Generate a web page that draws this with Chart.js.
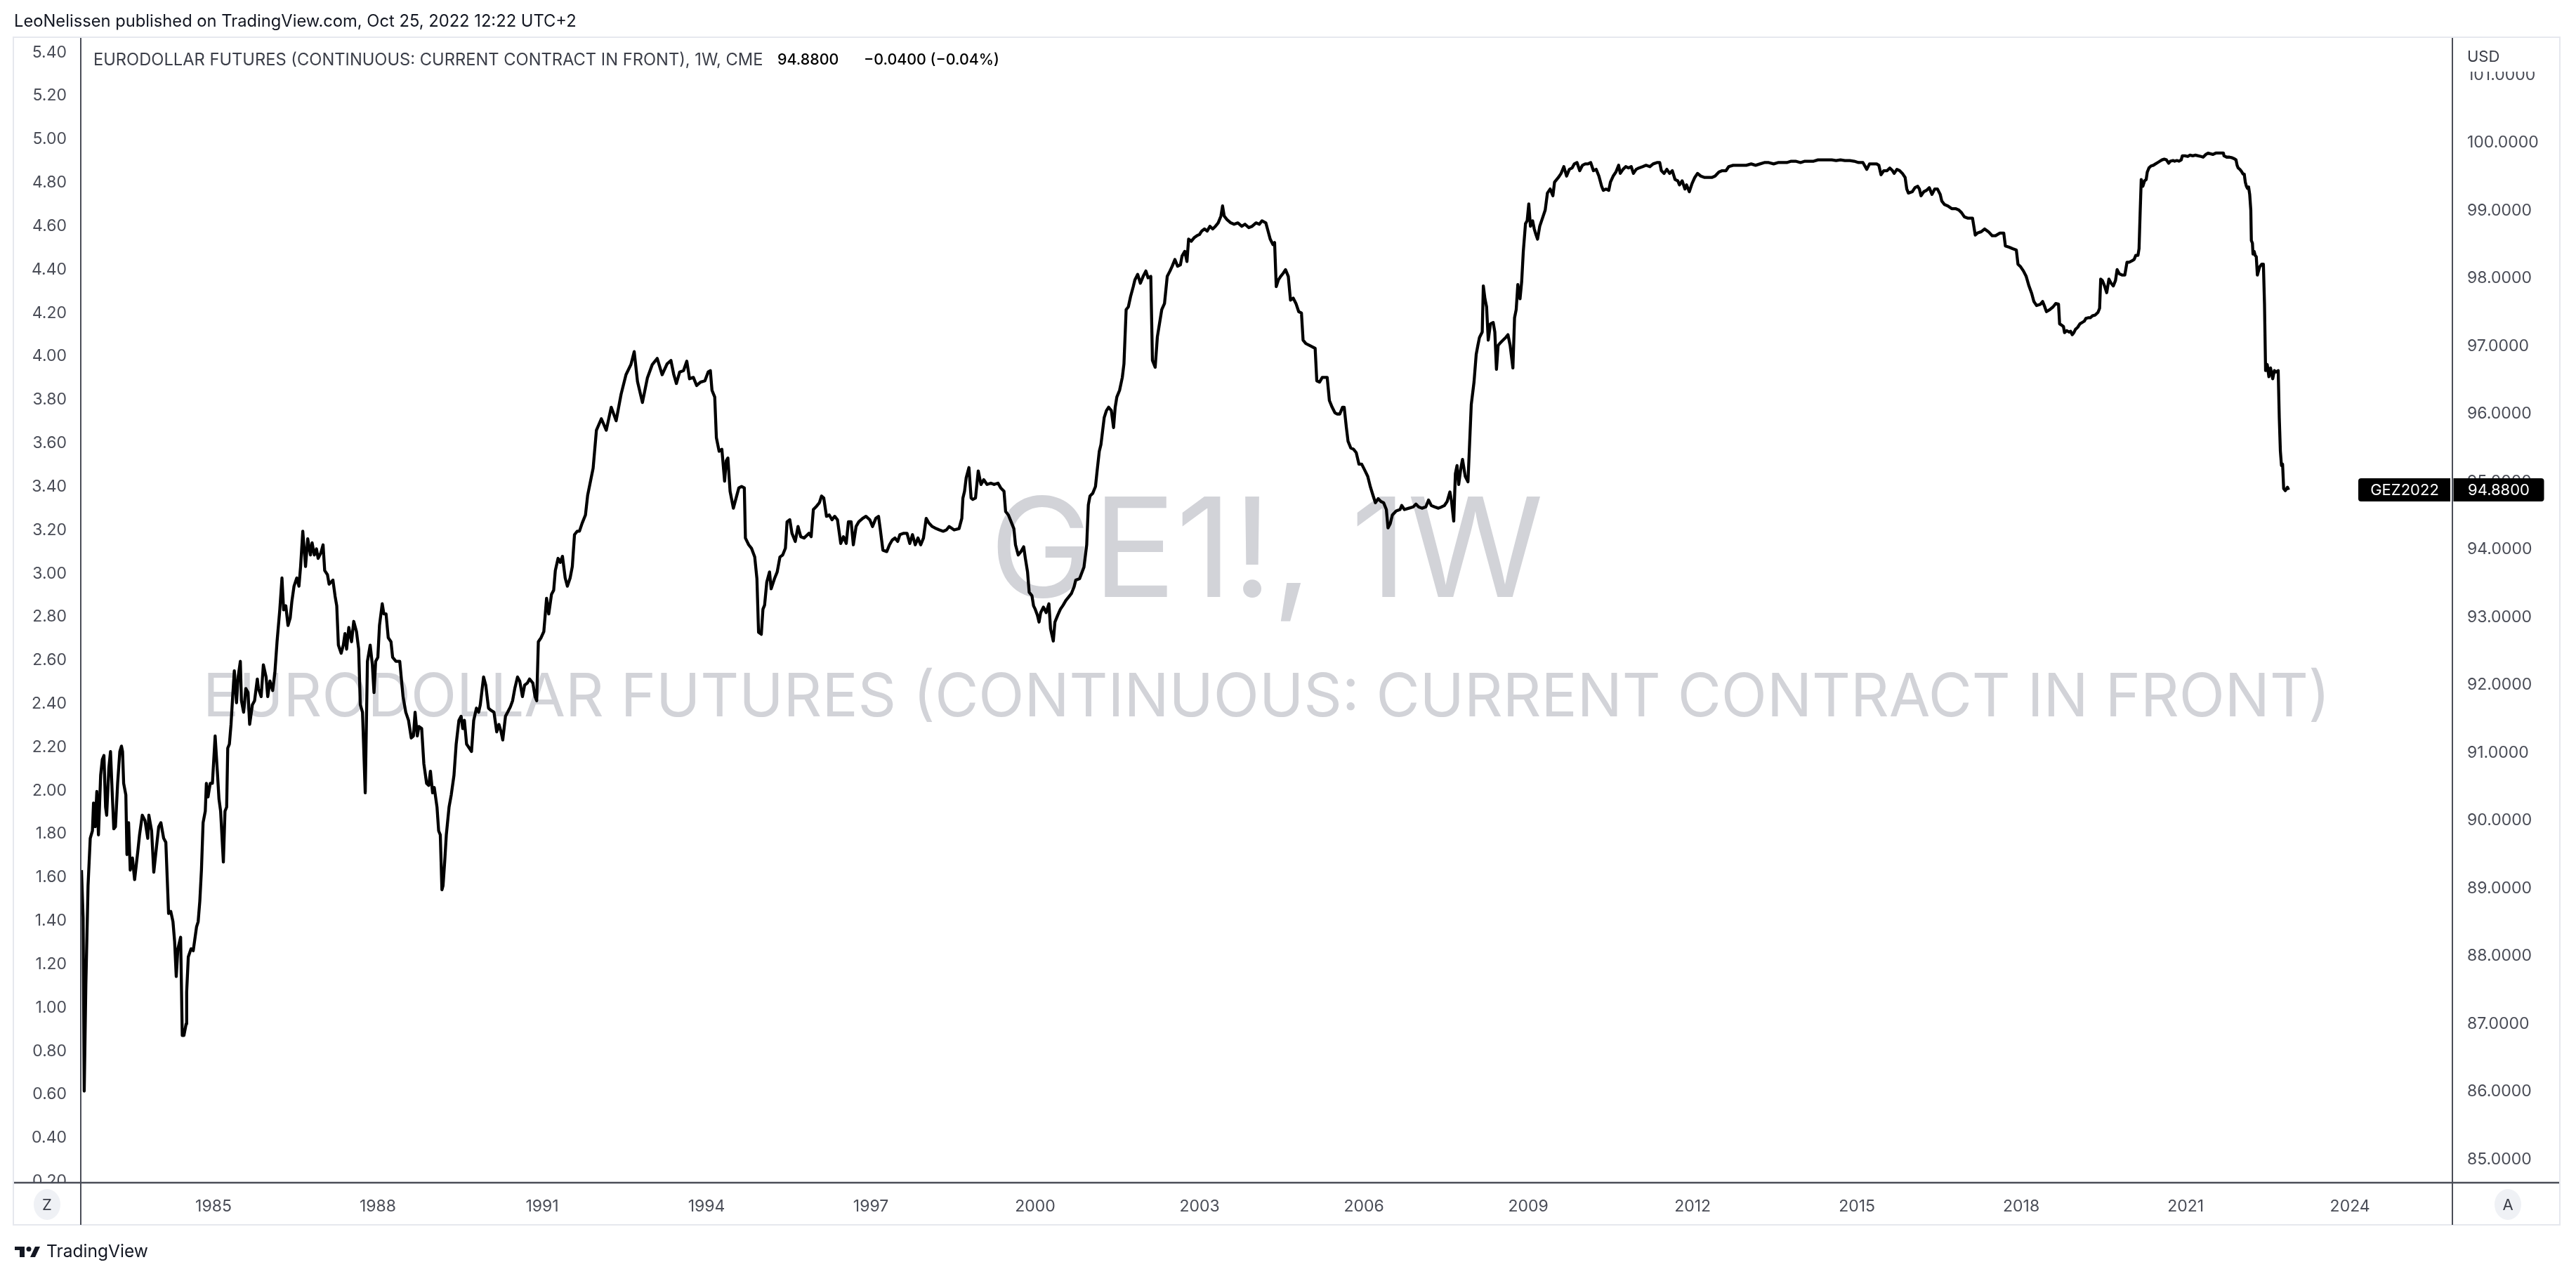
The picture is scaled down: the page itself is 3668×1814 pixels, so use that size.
<!DOCTYPE html>
<html><head><meta charset="utf-8">
<script src="https://cdn.jsdelivr.net/npm/chart.js@4.4.0/dist/chart.umd.min.js"></script>
<style>html,body{margin:0;padding:0;background:#fff;overflow:hidden}canvas{display:block}</style>
</head><body>
<canvas id="c" width="3668" height="1814" style="width:3668px;height:1814px"></canvas>
<script>
// ---- DATA (decimal year, price) ----
const era1982 = [[1982.59,89.27],[1982.62,88.57],[1982.64,86.01],[1982.67,87.58],[1982.71,89.04],[1982.75,89.74],[1982.79,89.85],[1982.81,90.26],[1982.84,89.91],[1982.87,90.43],[1982.90,89.79],[1982.94,90.67],[1982.97,90.90],[1983.00,90.96],[1983.03,90.20],[1983.05,90.08],[1983.09,90.78],[1983.12,91.02],[1983.15,90.43],[1983.18,89.88],[1983.21,89.91],[1983.25,90.55],[1983.29,91.02],[1983.32,91.10],[1983.34,91.02],[1983.36,90.55],[1983.40,90.38],[1983.42,89.50],[1983.45,89.97],[1983.48,89.27],[1983.52,89.45],[1983.56,89.13],[1983.62,89.56],[1983.65,89.79],[1983.70,90.08],[1983.75,90.00],[1983.80,89.74],[1983.82,90.08],[1983.87,89.85],[1983.91,89.24],[1983.96,89.62],[1984.00,89.91],[1984.04,89.97],[1984.09,89.74],[1984.13,89.68],[1984.18,88.63],[1984.22,88.66],[1984.26,88.51],[1984.29,88.22],[1984.32,87.70],[1984.35,88.11],[1984.40,88.28],[1984.43,86.83],[1984.46,86.83],[1984.50,87.00],[1984.51,87.47],[1984.54,87.99],[1984.59,88.11],[1984.63,88.08],[1984.69,88.43],[1984.72,88.51],[1984.75,88.81],[1984.78,89.27],[1984.81,89.97],[1984.85,90.14],[1984.87,90.55],[1984.90,90.35],[1984.94,90.55],[1984.98,90.55],[1985.03,91.25],[1985.07,90.73],[1985.10,90.32],[1985.13,90.14],[1985.18,89.39],[1985.21,90.14],[1985.24,90.20],[1985.26,91.07],[1985.29,91.13],[1985.32,91.42],[1985.35,91.83],[1985.38,92.21],[1985.42,91.74],[1985.45,92.12],[1985.49,92.35],[1985.51,91.77],[1985.55,91.60],[1985.59,91.95],[1985.63,91.89],[1985.66,91.42],[1985.71,91.71],[1985.75,91.77],[1985.80,92.09],[1985.82,91.95],[1985.87,91.83],[1985.91,92.30],[1985.96,92.12],[1985.99,91.83],[1986.03,92.06],[1986.08,91.92],[1986.12,92.18],[1986.16,92.64],[1986.21,93.11],[1986.25,93.58],[1986.28,93.11],[1986.32,93.17],[1986.36,92.88],[1986.40,92.99],[1986.43,93.23],[1986.47,93.46],[1986.52,93.58],[1986.56,93.46],[1986.59,93.75],[1986.63,94.27],[1986.68,93.75],[1986.72,94.16],[1986.77,93.92],[1986.80,94.10],[1986.84,93.92],[1986.88,94.01],[1986.91,93.87],[1986.96,93.95],[1987.00,94.07]];
const era1987 = [[1987.03,93.69],[1987.08,93.63],[1987.11,93.49],[1987.18,93.55],[1987.22,93.31],[1987.25,93.17],[1987.28,92.59],[1987.33,92.47],[1987.37,92.59],[1987.40,92.76],[1987.43,92.53],[1987.47,92.85],[1987.52,92.64],[1987.56,92.94],[1987.61,92.79],[1987.65,92.53],[1987.68,91.71],[1987.72,91.60],[1987.77,90.41],[1987.81,92.35],[1987.86,92.59],[1987.90,92.30],[1987.93,91.89],[1987.96,92.35],[1988.00,92.41],[1988.03,92.88],[1988.08,93.20],[1988.11,93.05],[1988.15,93.05],[1988.19,92.70],[1988.24,92.64],[1988.27,92.41],[1988.33,92.35],[1988.40,92.35],[1988.46,91.83],[1988.51,91.60],[1988.56,91.48],[1988.61,91.22],[1988.65,91.25],[1988.68,91.60],[1988.72,91.25],[1988.75,91.39],[1988.80,91.36],[1988.84,90.84],[1988.89,90.55],[1988.93,90.52],[1988.96,90.73],[1989.00,90.41],[1989.03,90.49],[1989.08,90.20],[1989.11,89.85],[1989.14,89.79],[1989.17,88.98],[1989.19,89.04],[1989.22,89.39],[1989.25,89.79],[1989.30,90.20],[1989.34,90.38],[1989.39,90.67],[1989.43,91.13],[1989.48,91.48],[1989.52,91.54],[1989.55,91.36],[1989.58,91.48],[1989.62,91.13],[1989.67,91.07],[1989.71,91.02],[1989.75,91.48],[1989.80,91.66],[1989.84,91.60],[1989.87,91.71],[1989.93,92.12],[1989.97,92.00],[1990.02,91.66],[1990.06,91.63],[1990.12,91.60],[1990.17,91.31],[1990.21,91.42],[1990.25,91.31],[1990.28,91.19],[1990.33,91.54],[1990.37,91.60],[1990.42,91.68],[1990.46,91.77],[1990.50,91.95],[1990.55,92.12],[1990.59,92.06],[1990.64,91.83],[1990.68,92.00],[1990.73,92.03],[1990.77,92.09],[1990.83,92.03],[1990.87,91.83],[1990.90,91.77],[1990.93,92.64],[1990.98,92.70],[1991.03,92.79],[1991.08,93.28],[1991.12,93.05],[1991.17,93.34],[1991.21,93.40],[1991.24,93.69],[1991.29,93.87],[1991.33,93.81],[1991.37,93.90],[1991.42,93.58],[1991.46,93.46],[1991.51,93.58],[1991.55,93.75],[1991.59,94.22],[1991.64,94.27],[1991.68,94.27],[1991.73,94.39],[1991.79,94.51],[1991.83,94.80]];
const era1992 = [[1991.93,95.20],[1991.99,95.76],[1992.08,95.93],[1992.17,95.76],[1992.26,96.10],[1992.35,95.90],[1992.44,96.29],[1992.53,96.58],[1992.62,96.73],[1992.68,96.92],[1992.74,96.48],[1992.83,96.17],[1992.92,96.53],[1993.01,96.73],[1993.10,96.82],[1993.19,96.58]];
const era1993 = [[1993.28,96.74],[1993.35,96.79],[1993.40,96.59],[1993.45,96.45],[1993.51,96.62],[1993.58,96.64],[1993.64,96.78],[1993.69,96.52],[1993.76,96.54],[1993.82,96.42],[1993.89,96.47],[1993.97,96.49],[1994.03,96.62],[1994.07,96.64],[1994.10,96.35],[1994.15,96.25],[1994.18,95.65],[1994.23,95.45],[1994.28,95.48],[1994.33,95.01],[1994.36,95.31],[1994.39,95.35],[1994.43,94.86],[1994.49,94.61],[1994.54,94.76],[1994.59,94.91],[1994.64,94.93],[1994.69,94.91],[1994.71,94.17],[1994.77,94.07],[1994.82,94.02],[1994.88,93.89],[1994.92,93.57],[1994.95,92.78],[1995.00,92.75],[1995.03,93.12],[1995.06,93.18],[1995.10,93.52],[1995.15,93.67],[1995.18,93.42],[1995.24,93.57],[1995.29,93.67],[1995.34,93.89],[1995.39,93.92],[1995.44,94.02],[1995.47,94.41],[1995.52,94.44],[1995.56,94.24],[1995.62,94.12],[1995.67,94.34],[1995.72,94.19],[1995.78,94.17],[1995.87,94.24],[1995.91,94.19],[1995.95,94.59],[1996.01,94.64],[1996.06,94.69],[1996.10,94.79],[1996.14,94.76],[1996.19,94.49],[1996.24,94.51],[1996.29,94.44],[1996.34,94.49],[1996.39,94.44],[1996.45,94.09],[1996.50,94.19],[1996.55,94.09],[1996.59,94.41],[1996.64,94.41],[1996.68,94.07],[1996.73,94.34],[1996.78,94.41],[1996.85,94.46],[1996.91,94.49],[1996.98,94.44],[1997.03,94.34],[1997.09,94.46],[1997.14,94.49],[1997.17,94.31],[1997.22,93.99],[1997.29,93.97],[1997.34,94.07],[1997.39,94.14],[1997.44,94.17],[1997.49,94.12],[1997.53,94.22],[1997.60,94.24],[1997.66,94.24],[1997.71,94.09],[1997.76,94.22],[1997.81,94.07],[1997.86,94.17],[1997.91,94.07],[1997.96,94.17],[1998.01,94.46],[1998.06,94.39],[1998.12,94.34],[1998.19,94.31],[1998.25,94.29],[1998.32,94.27],[1998.38,94.29],[1998.43,94.34],[1998.52,94.29],[1998.61,94.31],[1998.66,94.46],[1998.68,94.76],[1998.71,94.86],[1998.74,95.06],[1998.79,95.21],[1998.83,94.76],[1998.86,94.74],[1998.91,94.76],[1998.96,95.16],[1999.01,94.96],[1999.06,95.03],[1999.12,94.96],[1999.19,94.98],[1999.25,94.96],[1999.32,94.98],[1999.37,94.91],[1999.43,94.86],[1999.46,94.56],[1999.51,94.51],[1999.56,94.41],[1999.61,94.31],[1999.64,94.07],[1999.69,93.92],[1999.74,93.97],[1999.79,94.04],[1999.82,93.87],[1999.86,93.67],[1999.89,93.37],[1999.94,93.32],[1999.97,93.17],[2000.00,93.12],[2000.04,93.03],[2000.07,92.93],[2000.10,93.07],[2000.15,93.15],[2000.20,93.07],[2000.25,93.20],[2000.28,92.83],[2000.33,92.65],[2000.36,92.93],[2000.41,93.03],[2000.46,93.12],[2000.51,93.18],[2000.56,93.25],[2000.61,93.30],[2000.66,93.35],[2000.71,93.45],[2000.74,93.55],[2000.81,93.57],[2000.89,93.74],[2000.94,94.07],[2000.97,94.66],[2001.00,94.79],[2001.05,94.83],[2001.10,94.93],[2001.13,95.16],[2001.17,95.45],[2001.20,95.55],[2001.23,95.75],[2001.26,95.95],[2001.30,96.05],[2001.34,96.10],[2001.39,96.05],[2001.43,95.80],[2001.46,96.10],[2001.49,96.25],[2001.54,96.35],[2001.59,96.54],[2001.62,96.74],[2001.66,97.54],[2001.70,97.58],[2001.74,97.73],[2001.79,97.88],[2001.82,97.98],[2001.87,98.06],[2001.92,97.93],[2001.97,98.03],[2002.02,98.11],[2002.06,98.01],[2002.11,98.03],[2002.14,96.79],[2002.19,96.69],[2002.23,97.14],[2002.28,97.39],[2002.31,97.54],[2002.36,97.63],[2002.41,98.03],[2002.46,98.11],[2002.50,98.18],[2002.55,98.28],[2002.60,98.18],[2002.65,98.20],[2002.68,98.33],[2002.73,98.40],[2002.77,98.25],[2002.80,98.58],[2002.85,98.55],[2002.90,98.60],[2002.95,98.63],[2003.00,98.65],[2003.04,98.70],[2003.09,98.73],[2003.14,98.70],[2003.19,98.77],[2003.24,98.73],[2003.29,98.77],[2003.34,98.82],[2003.39,98.92],[2003.42,99.07],[2003.45,98.92],[2003.50,98.87],[2003.57,98.82],[2003.63,98.80],[2003.70,98.82],[2003.77,98.77],[2003.83,98.80],[2003.90,98.75],[2003.96,98.77],[2004.03,98.82],[2004.09,98.80],[2004.14,98.85],[2004.21,98.82],[2004.24,98.73],[2004.29,98.58],[2004.34,98.50],[2004.37,98.53],[2004.40,97.88],[2004.44,97.98],[2004.48,98.03],[2004.53,98.08],[2004.57,98.13],[2004.62,98.03],[2004.66,97.68],[2004.71,97.71],[2004.76,97.63],[2004.81,97.51],[2004.86,97.49],[2004.89,97.09],[2004.94,97.04],[2004.99,97.02],[2005.06,96.99],[2005.11,96.97],[2005.14,96.49],[2005.19,96.47],[2005.24,96.54],[2005.29,96.54],[2005.33,96.54],[2005.37,96.20],[2005.42,96.10],[2005.47,96.02],[2005.51,96.00],[2005.56,96.00],[2005.61,96.10],[2005.64,96.10],[2005.68,95.80],[2005.71,95.60],[2005.76,95.50],[2005.81,95.48],[2005.86,95.43],[2005.91,95.26],[2005.96,95.26],[2006.01,95.18],[2006.07,95.08]];
const era2006 = [[2006.12,94.92],[2006.17,94.79],[2006.21,94.69],[2006.26,94.75],[2006.31,94.71],[2006.36,94.69],[2006.41,94.59],[2006.44,94.32],[2006.48,94.38],[2006.52,94.51],[2006.59,94.57],[2006.66,94.59],[2006.69,94.65],[2006.74,94.59],[2006.82,94.61],[2006.90,94.63],[2006.95,94.67],[2007.00,94.63],[2007.06,94.61],[2007.13,94.63],[2007.18,94.73],[2007.23,94.65],[2007.29,94.63],[2007.36,94.61],[2007.42,94.63],[2007.47,94.65],[2007.52,94.71],[2007.57,94.85],[2007.60,94.71],[2007.64,94.42],[2007.67,95.12],[2007.70,95.24],[2007.73,94.96],[2007.77,95.20],[2007.80,95.33],[2007.85,95.08],[2007.90,95.00],[2007.93,95.57],[2007.96,96.14],[2008.01,96.47],[2008.05,96.88],[2008.08,97.01],[2008.11,97.13],[2008.16,97.21],[2008.18,97.89],[2008.21,97.70],[2008.24,97.58],[2008.27,97.09],[2008.31,97.33],[2008.36,97.35],[2008.39,97.21],[2008.42,96.66],[2008.45,97.01],[2008.49,97.05],[2008.54,97.09],[2008.59,97.13],[2008.63,97.17],[2008.67,97.01],[2008.72,96.68],[2008.75,97.42],[2008.78,97.54],[2008.81,97.91],[2008.85,97.70],[2008.88,97.95],[2008.91,98.40],[2008.95,98.81],[2008.98,98.85],[2009.01,99.10],[2009.04,98.77],[2009.08,98.85],[2009.11,98.73],[2009.14,98.65],[2009.17,98.58],[2009.21,98.77],[2009.26,98.89],[2009.31,99.01],[2009.35,99.26],[2009.40,99.32],[2009.45,99.22],[2009.48,99.42],[2009.55,99.49],[2009.60,99.55],[2009.65,99.65],[2009.70,99.51],[2009.75,99.61],[2009.80,99.63],[2009.84,99.69],[2009.89,99.71],[2009.94,99.59],[2009.99,99.67],[2010.04,99.69],[2010.09,99.69],[2010.14,99.71],[2010.19,99.59],[2010.24,99.61],[2010.29,99.51],[2010.34,99.36],[2010.37,99.30],[2010.42,99.32],[2010.47,99.30],[2010.50,99.42],[2010.55,99.51],[2010.60,99.57],[2010.65,99.67],[2010.68,99.55],[2010.73,99.61],[2010.78,99.65],[2010.83,99.63],[2010.88,99.65],[2010.92,99.55],[2010.97,99.61],[2011.02,99.63],[2011.09,99.65],[2011.15,99.67],[2011.22,99.65],[2011.28,99.69],[2011.35,99.71],[2011.40,99.71],[2011.43,99.59],[2011.48,99.55],[2011.53,99.61],[2011.58,99.55],[2011.63,99.59],[2011.68,99.46],[2011.73,99.44],[2011.76,99.38],[2011.81,99.44],[2011.86,99.32],[2011.89,99.38],[2011.94,99.28],[2011.99,99.40],[2012.04,99.49],[2012.09,99.55],[2012.15,99.51],[2012.22,99.49],[2012.28,99.49],[2012.35,99.49],[2012.41,99.51],[2012.48,99.57],[2012.54,99.59],[2012.61,99.59],[2012.66,99.65],[2012.74,99.67],[2012.82,99.67],[2012.90,99.67],[2012.98,99.67],[2013.07,99.69],[2013.15,99.67],[2013.23,99.69],[2013.31,99.71],[2013.39,99.71],[2013.48,99.69],[2013.56,99.71],[2013.64,99.71],[2013.72,99.71],[2013.80,99.73],[2013.88,99.73],[2013.97,99.71],[2014.05,99.73],[2014.13,99.73],[2014.21,99.73],[2014.29,99.75],[2014.37,99.75],[2014.46,99.75],[2014.54,99.75],[2014.62,99.74],[2014.70,99.75],[2014.78,99.74],[2014.87,99.74],[2014.95,99.73],[2015.03,99.71],[2015.11,99.71],[2015.18,99.61],[2015.23,99.69],[2015.27,99.69],[2015.36,99.69],[2015.40,99.67],[2015.44,99.53],[2015.49,99.59],[2015.55,99.59],[2015.60,99.63],[2015.65,99.59],[2015.68,99.55],[2015.73,99.61],[2015.78,99.59],[2015.83,99.55],[2015.88,99.49],[2015.91,99.32],[2015.94,99.26],[2016.01,99.28],[2016.06,99.34],[2016.11,99.36],[2016.14,99.32],[2016.17,99.22],[2016.22,99.28],[2016.27,99.30],[2016.32,99.34],[2016.37,99.24],[2016.42,99.32],[2016.47,99.32],[2016.52,99.24],[2016.55,99.14],[2016.60,99.09],[2016.66,99.07],[2016.73,99.03],[2016.80,99.03],[2016.86,99.01],[2016.91,98.97],[2016.96,98.91],[2017.02,98.89],[2017.11,98.89],[2017.16,98.64],[2017.20,98.67],[2017.27,98.69],[2017.33,98.73],[2017.40,98.69],[2017.47,98.63],[2017.53,98.63],[2017.61,98.67],[2017.68,98.67],[2017.71,98.48],[2017.78,98.46],[2017.84,98.44],[2017.91,98.42],[2017.94,98.21],[2017.99,98.17],[2018.04,98.11],[2018.09,98.03],[2018.14,97.89],[2018.19,97.78],[2018.23,97.66],[2018.28,97.60]];
const era2018 = [[2018.35,97.62],[2018.39,97.66],[2018.42,97.60],[2018.46,97.51],[2018.52,97.54],[2018.58,97.58],[2018.63,97.63],[2018.68,97.62],[2018.70,97.33],[2018.74,97.31],[2018.77,97.29],[2018.79,97.20],[2018.83,97.23],[2018.87,97.21],[2018.90,97.22],[2018.93,97.17],[2018.96,97.20],[2018.99,97.25],[2019.03,97.28],[2019.07,97.33],[2019.11,97.35],[2019.15,97.37],[2019.18,97.41],[2019.22,97.42],[2019.26,97.42],[2019.30,97.45],[2019.35,97.46],[2019.40,97.50],[2019.43,97.56],[2019.45,97.99],[2019.48,97.97],[2019.52,97.89],[2019.56,97.79],[2019.60,97.99],[2019.64,97.93],[2019.68,97.89],[2019.72,97.97],[2019.75,98.13],[2019.79,98.07],[2019.84,98.05],[2019.89,98.05],[2019.93,98.24],[2019.97,98.24],[2020.02,98.26],[2020.06,98.28],[2020.09,98.34],[2020.13,98.34],[2020.15,98.44],[2020.17,98.97],[2020.19,99.46],[2020.22,99.36],[2020.25,99.44],[2020.28,99.46],[2020.30,99.57],[2020.33,99.63],[2020.37,99.66],[2020.41,99.67],[2020.45,99.69],[2020.49,99.71],[2020.53,99.73],[2020.57,99.75],[2020.61,99.76],[2020.65,99.75],[2020.69,99.70],[2020.72,99.73],[2020.77,99.74],[2020.80,99.73],[2020.84,99.74],[2020.88,99.73],[2020.92,99.75],[2020.94,99.81],[2020.99,99.81],[2021.04,99.80],[2021.08,99.82],[2021.13,99.81],[2021.18,99.82],[2021.23,99.81],[2021.28,99.80],[2021.32,99.79],[2021.37,99.83],[2021.41,99.85],[2021.45,99.84],[2021.50,99.83],[2021.55,99.85],[2021.60,99.85],[2021.65,99.85],[2021.69,99.85],[2021.70,99.81],[2021.75,99.79],[2021.80,99.79],[2021.85,99.78],[2021.88,99.77],[2021.92,99.75],[2021.94,99.67],[2021.96,99.63],[2021.99,99.61],[2022.02,99.58],[2022.05,99.54],[2022.07,99.54],[2022.09,99.42],[2022.11,99.36],[2022.13,99.33],[2022.15,99.35],[2022.17,99.24],[2022.19,99.01],[2022.20,98.56],[2022.22,98.52],[2022.23,98.36],[2022.25,98.40],[2022.27,98.34],[2022.29,98.32],[2022.31,98.05],[2022.33,98.11],[2022.35,98.17],[2022.39,98.21],[2022.42,98.21],[2022.44,97.62],[2022.46,96.64],[2022.49,96.73],[2022.52,96.55],[2022.55,96.68],[2022.59,96.52],[2022.62,96.64],[2022.65,96.62],[2022.69,96.64],[2022.71,95.94],[2022.73,95.45],[2022.75,95.24],[2022.77,95.26],[2022.79,94.90],[2022.82,94.87],[2022.86,94.92],[2022.88,94.88]];

const yearTicks = [1985,1988,1991,1994,1997,2000,2003,2006,2009,2012,2015,2018,2021,2024];
const priceTicks = [85,86,87,88,89,90,91,92,93,94,95,96,97,98,99,100,101];
const rateTicks = [0.2,0.4,0.6,0.8,1.0,1.2,1.4,1.6,1.8,2.0,2.2,2.4,2.6,2.8,3.0,3.2,3.4,3.6,3.8,4.0,4.2,4.4,4.6,4.8,5.0,5.2,5.4];

const symbolName = 'EURODOLLAR FUTURES (CONTINUOUS: CURRENT CONTRACT IN FRONT)';
const headerText = 'LeoNelissen published on TradingView.com, Oct 25, 2022 12:22 UTC+2';
const legendTitle = symbolName + ', 1W, CME';
const legendClose = '94.8800';
const legendChange = '\u22120.0400 (\u22120.04%)';
const watermark1 = 'GE1!, 1W';
const contractName = 'GEZ2022';

// ---- build ----
const series = [].concat(era1982, era1987, era1992, era1993, era2006, era2018);
const points = series.map(p => ({x: p[0], y: p[1]}));
const lastPrice = series[series.length - 1][1];

const FONT = 'Inter, "Noto Sans", sans-serif';
const TICK_COLOR = '#4a4d57';
const FRAME_DARK = '#4a4d57';

function fitSize(ctx, text, targetW, weight, base) {
  ctx.font = weight + ' ' + base + 'px ' + FONT;
  const w = ctx.measureText(text).width;
  return base * targetW / w;
}
function rrect(ctx, x, y, w, h, r) {
  ctx.beginPath();
  ctx.roundRect(x, y, w, h, r);
  ctx.fill();
}

const overlay = {
  id: 'overlay',
  beforeDraw(chart) {
    const ctx = chart.ctx;
    ctx.save();
    ctx.fillStyle = '#ffffff';
    ctx.fillRect(0, 0, chart.width, chart.height);
    ctx.restore();
  },
  beforeDatasetsDraw(chart) {
    const ctx = chart.ctx, a = chart.chartArea;
    const cx = (a.left + a.right) / 2;
    ctx.save();
    ctx.fillStyle = '#d2d3d8';
    ctx.textAlign = 'center';
    ctx.textBaseline = 'alphabetic';
    let s1 = fitSize(ctx, watermark1, 789, '400', 200);
    ctx.font = '400 ' + s1 + 'px ' + FONT;
    ctx.fillText(watermark1, cx, 850);
    let s2 = fitSize(ctx, symbolName, 3029, '400', 120);
    ctx.font = '400 ' + s2 + 'px ' + FONT;
    ctx.fillText(symbolName, cx, 1020);
    ctx.restore();
  },
  afterDraw(chart) {
    const ctx = chart.ctx, a = chart.chartArea;
    ctx.save();
    // cover lower part of the cut 0.20 label & time-axis panel corners
    ctx.fillStyle = '#fff';
    ctx.fillRect(20, a.bottom + 1, a.left - 21, 1744 - a.bottom - 1);
    ctx.fillRect(a.right + 1, a.bottom + 1, 3644 - a.right - 1, 1744 - a.bottom - 1);
    // light outer frame
    ctx.strokeStyle = '#e6e8ee';
    ctx.lineWidth = 2;
    ctx.strokeRect(19, 53, 3645 - 19, 1744 - 53);
    // dark axis lines
    ctx.strokeStyle = FRAME_DARK;
    ctx.lineWidth = 2;
    ctx.beginPath();
    ctx.moveTo(a.left, 54); ctx.lineTo(a.left, 1744);
    ctx.moveTo(a.right, 54); ctx.lineTo(a.right, 1744);
    ctx.stroke();
    ctx.lineWidth = 2.5;
    ctx.beginPath();
    ctx.moveTo(20, a.bottom); ctx.lineTo(3644, a.bottom);
    ctx.stroke();

    // Z and A buttons
    ctx.fillStyle = '#eff1f5';
    ctx.beginPath(); ctx.ellipse(67, 1715, 19, 22, 0, 0, Math.PI * 2); ctx.fill();
    ctx.beginPath(); ctx.ellipse(3571, 1715, 19, 22, 0, 0, Math.PI * 2); ctx.fill();
    ctx.fillStyle = '#3a3d47';
    ctx.font = '400 22px ' + FONT;
    ctx.textAlign = 'center'; ctx.textBaseline = 'middle';
    ctx.fillText('Z', 67, 1716);
    ctx.fillText('A', 3571, 1716);

    // header
    ctx.textAlign = 'left'; ctx.textBaseline = 'middle';
    ctx.fillStyle = '#131722';
    let hs = fitSize(ctx, headerText, 801, '400', 22);
    ctx.font = '400 ' + hs + 'px ' + FONT;
    ctx.fillText(headerText, 20, 31);

    // legend
    ctx.fillStyle = '#3b3e48';
    let ls = fitSize(ctx, legendTitle, 954, '400', 22);
    ctx.font = '400 ' + ls + 'px ' + FONT;
    ctx.fillText(legendTitle, 133, 86);
    ctx.fillStyle = '#000';
    let cs = fitSize(ctx, legendChange, 193, '500', 22);
    ctx.font = '500 ' + cs + 'px ' + FONT;
    ctx.fillText(legendClose, 1107, 86);
    ctx.fillText(legendChange, 1230, 86);

    // USD label on price scale
    ctx.fillStyle = '#fff';
    ctx.fillRect(a.right + 2, 55, 3644 - a.right - 3, 47);
    ctx.fillStyle = '#3a3d47';
    ctx.font = '400 22px ' + FONT;
    ctx.fillText('USD', 3513, 81);

    // last price tag
    const yy = chart.scales.yPrice.getPixelForValue(lastPrice);
    ctx.fillStyle = '#000';
    rrect(ctx, 3358, yy - 16.5, 131, 33, [4, 0, 0, 4]);
    rrect(ctx, a.right + 1.5, yy - 16.5, 129, 33, [0, 4, 4, 0]);
    ctx.fillStyle = '#fff';
    ctx.font = '400 22px ' + FONT;
    ctx.textAlign = 'center';
    ctx.fillText(contractName, 3424, yy + 1);
    ctx.fillText(lastPrice.toFixed(4), 3558, yy + 1);

    // TradingView logo
    ctx.fillStyle = '#131722';
    ctx.fillRect(21, 1775, 14, 5);
    ctx.fillRect(28, 1775, 7, 15);
    ctx.beginPath(); ctx.arc(41, 1778.5, 3.5, 0, Math.PI * 2); ctx.fill();
    ctx.beginPath();
    ctx.moveTo(43, 1790); ctx.lineTo(50, 1790); ctx.lineTo(57, 1775); ctx.lineTo(50, 1775);
    ctx.closePath(); ctx.fill();
    ctx.textAlign = 'left';
    let ts = fitSize(ctx, 'TradingView', 145, '400', 24);
    ctx.font = '400 ' + ts + 'px ' + FONT;
    ctx.fillText('TradingView', 66, 1783);
    ctx.restore();
  }
};

const tickFont = {family: FONT, size: 23};

new Chart(document.getElementById('c').getContext('2d'), {
  type: 'line',
  data: {
    datasets: [{
      data: points,
      borderColor: '#000',
      borderWidth: 4.3,
      pointRadius: 0,
      tension: 0,
      fill: false,
      xAxisID: 'x',
      yAxisID: 'yPrice',
      borderJoinStyle: 'round'
    }]
  },
  options: {
    responsive: false,
    devicePixelRatio: 1,
    animation: false,
    events: [],
    layout: {padding: {left: 19, right: 23, top: 54, bottom: 70}},
    plugins: {legend: {display: false}, tooltip: {enabled: false}, title: {display: false}},
    scales: {
      x: {
        type: 'linear', position: 'bottom',
        min: 1982.577, max: 2025.87,
        grid: {display: false, drawTicks: false},
        border: {display: false},
        afterBuildTicks(s) { s.ticks = yearTicks.map(v => ({value: v})); },
        afterFit(s) { s.height = 60; },
        ticks: {autoSkip: false, maxRotation: 0, padding: 20, color: TICK_COLOR, font: tickFont,
                callback: v => String(v)}
      },
      yRate: {
        type: 'linear', position: 'left',
        min: 0.194, max: 5.467,
        grid: {display: false, drawTicks: false},
        border: {display: false},
        afterBuildTicks(s) { s.ticks = rateTicks.map(v => ({value: v})); },
        afterFit(s) { s.width = 96; },
        ticks: {autoSkip: false, padding: 20, color: TICK_COLOR, font: tickFont,
                callback: v => Number(v).toFixed(2)}
      },
      yPrice: {
        type: 'linear', position: 'right',
        min: 84.658, max: 101.549,
        grid: {display: false, drawTicks: false},
        border: {display: false},
        afterBuildTicks(s) { s.ticks = priceTicks.map(v => ({value: v})); },
        afterFit(s) { s.width = 153; },
        ticks: {autoSkip: false, padding: 21, color: TICK_COLOR, font: tickFont,
                callback: v => Number(v).toFixed(4)}
      }
    }
  },
  plugins: [overlay]
});
</script>
</body></html>
